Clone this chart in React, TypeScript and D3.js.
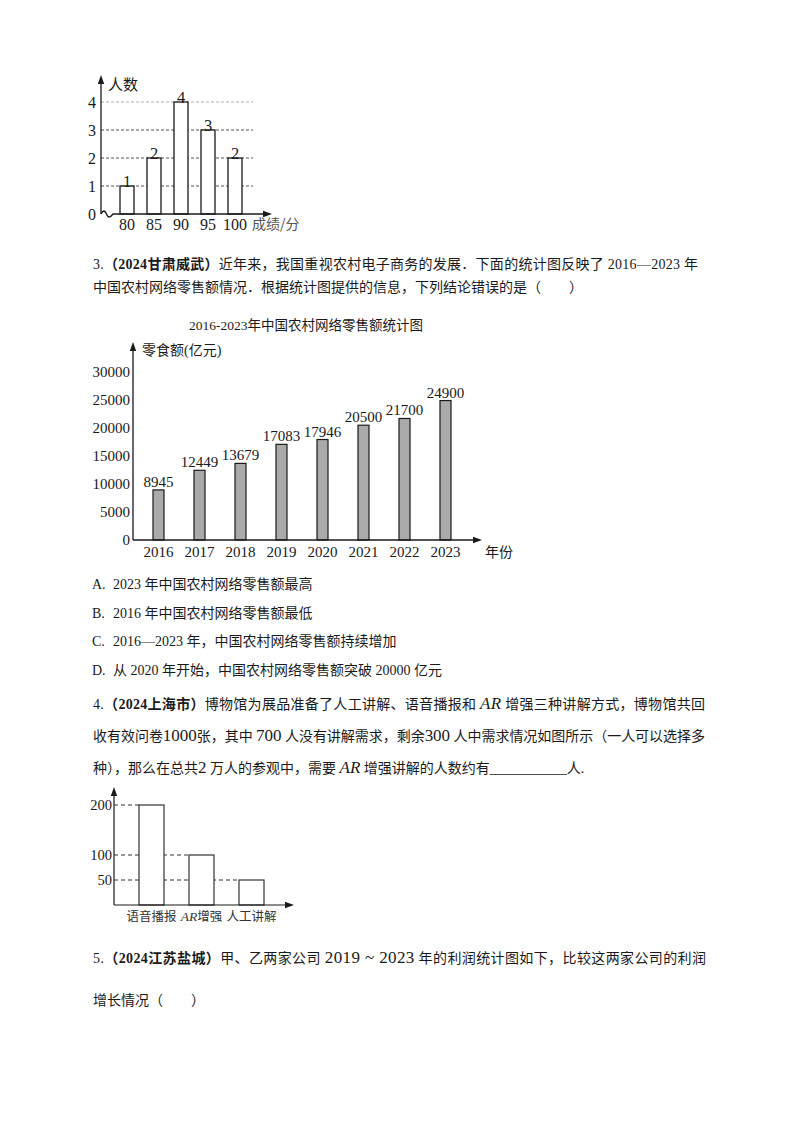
import React from 'react';
import * as d3 from 'd3';

// ---------- data ----------
const scoreCats = ['80', '85', '90', '95', '100'];
const scoreCounts = [1, 2, 4, 3, 2];
const scoreTicks = [0, 1, 2, 3, 4];

const years = ['2016', '2017', '2018', '2019', '2020', '2021', '2022', '2023'];
const sales = [8945, 12449, 13679, 17083, 17946, 20500, 21700, 24900];
const salesTicks = [0, 5000, 10000, 15000, 20000, 25000, 30000];

const guideCats = ['语音播报', 'AR增强', '人工讲解'];
const guideCounts = [200, 100, 50];
const guideTicks = [200, 100, 50];

const optionLabels = ['A.', 'B.', 'C.', 'D.'];
const optionTexts = [
  '2023 年中国农村网络零售额最高',
  '2016 年中国农村网络零售额最低',
  '2016—2023 年，中国农村网络零售额持续增加',
  '从 2020 年开始，中国农村网络零售额突破 20000 亿元',
];

// ---------- styles ----------
const SERIF = "'Liberation Serif','Noto Sans CJK SC',serif";
const CJK = "'Noto Sans CJK SC','Liberation Serif',sans-serif";
const INK = '#1a1a1a';

function ArrowUp({ x, y }: { x: number; y: number }) {
  return <polygon points={`${x},${y} ${x - 3.2},${y + 9} ${x + 3.2},${y + 9}`} fill={INK} />;
}
function ArrowRight({ x, y }: { x: number; y: number }) {
  return <polygon points={`${x},${y} ${x - 9},${y - 3.2} ${x - 9},${y + 3.2}`} fill={INK} />;
}

function ScoreChart() {
  const x = d3.scalePoint<string>().domain(scoreCats).range([127, 235]);
  const y = d3.scaleLinear().domain([0, 4]).range([214, 102]);
  const x0 = 101;
  const bw = 14;
  return (
    <g>
      {scoreTicks.filter((t) => t > 0).map((t) => (
        <line key={t} x1={x0} x2={253} y1={y(t)} y2={y(t)}
          stroke={t === 4 ? '#b0b0b0' : '#555'} strokeWidth={1} strokeDasharray="3,2" />
      ))}
      {scoreCats.map((c, i) => (
        <rect key={c} x={(x(c) as number) - bw / 2} y={y(scoreCounts[i])} width={bw}
          height={y(0) - y(scoreCounts[i])} fill="#fff" stroke={INK} strokeWidth={1.3} />
      ))}
      {scoreCats.map((c, i) => (
        <text key={c} x={x(c)} y={y(scoreCounts[i]) + 0.5} textAnchor="middle" fontSize={16.5}
          fontFamily={SERIF} fill={INK}>{scoreCounts[i]}</text>
      ))}
      <line x1={x0} x2={x0} y1={y(0)} y2={80} stroke={INK} strokeWidth={1.3} />
      <ArrowUp x={x0} y={75} />
      <path d={`M${x0},${y(0)} C103,210 105,210 106.5,214 S110,218 113,214 L268,214`}
        fill="none" stroke={INK} strokeWidth={1.3} />
      <ArrowRight x={272} y={214} />
      {scoreTicks.map((t) => (
        <text key={t} x={96} y={y(t) + 5.5} textAnchor="end" fontSize={16} fontFamily={SERIF} fill={INK}>{t}</text>
      ))}
      {scoreCats.map((c) => (
        <text key={c} x={x(c)} y={230} textAnchor="middle" fontSize={16} fontFamily={SERIF} fill={INK}>{c}</text>
      ))}
      <text x={108} y={90} fontSize={15} fontFamily={CJK} fill={INK}>人数</text>
      <text x={252} y={229} fontSize={14} fontFamily={CJK} fill="#555">成绩/分</text>
    </g>
  );
}

function SalesChart() {
  const x = d3.scalePoint<string>().domain(years).range([158.5, 445.5]);
  const y = d3.scaleLinear().domain([0, 30000]).range([540, 372]);
  const x0 = 133;
  const bw = 11;
  return (
    <g>
      <text x={306} y={330} textAnchor="middle" fontSize={13.5} fontFamily={SERIF} fill={INK}>
        2016-2023年中国农村网络零售额统计图
      </text>
      {years.map((yr, i) => (
        <rect key={yr} x={(x(yr) as number) - bw / 2} y={y(sales[i])} width={bw}
          height={y(0) - y(sales[i])} fill="#aaaaaa" stroke={INK} strokeWidth={1.2} />
      ))}
      {years.map((yr, i) => (
        <text key={yr} x={x(yr)} y={y(sales[i]) - 3} textAnchor="middle" fontSize={15}
          fontFamily={SERIF} fill={INK}>{sales[i]}</text>
      ))}
      <line x1={x0} x2={x0} y1={y(0)} y2={347} stroke={INK} strokeWidth={1.3} />
      <ArrowUp x={x0} y={342} />
      <line x1={x0} x2={477} y1={y(0)} y2={y(0)} stroke={INK} strokeWidth={1.3} />
      <ArrowRight x={482} y={y(0)} />
      {salesTicks.map((t) => (
        <text key={t} x={130} y={y(t) + 5} textAnchor="end" fontSize={15} fontFamily={SERIF} fill={INK}>{t}</text>
      ))}
      {years.map((yr) => (
        <text key={yr} x={x(yr)} y={557} textAnchor="middle" fontSize={15} fontFamily={SERIF} fill={INK}>{yr}</text>
      ))}
      <text x={142} y={355} fontSize={14} fontFamily={SERIF} fill={INK}>零食额(亿元)</text>
      <text x={485} y={557} fontSize={14} fontFamily={CJK} fill={INK}>年份</text>
    </g>
  );
}

function GuideChart() {
  const x = d3.scalePoint<string>().domain(guideCats).range([151.5, 251.5]);
  const y = d3.scaleLinear().domain([0, 200]).range([905, 805]);
  const x0 = 114;
  const bw = 25;
  return (
    <g>
      {guideCats.map((c, i) => (
        <line key={c} x1={x0} x2={(x(c) as number) - bw / 2} y1={y(guideCounts[i])} y2={y(guideCounts[i])}
          stroke="#333" strokeWidth={1} strokeDasharray="4,3" />
      ))}
      {guideCats.map((c, i) => (
        <rect key={c} x={(x(c) as number) - bw / 2} y={y(guideCounts[i])} width={bw}
          height={y(0) - y(guideCounts[i])} fill="#fff" stroke="#333" strokeWidth={1.2} />
      ))}
      <line x1={x0} x2={x0} y1={y(0)} y2={792} stroke={INK} strokeWidth={1.2} />
      <ArrowUp x={x0} y={787} />
      <line x1={x0} x2={289} y1={y(0)} y2={y(0)} stroke={INK} strokeWidth={1.2} />
      <ArrowRight x={294} y={y(0)} />
      {guideTicks.map((t) => (
        <text key={t} x={112} y={y(t) + 5} textAnchor="end" fontSize={14.5} fontFamily={SERIF} fill={INK}>{t}</text>
      ))}
      {guideCats.map((c) => (
        <text key={c} x={x(c)} y={921} textAnchor="middle" fontSize={12.5} fontFamily={CJK} fill="#333">
          {c.startsWith('AR') ? (
            <>
              <tspan fontFamily={SERIF} fontStyle="italic" fontSize={13.5}>AR</tspan>
              <tspan>{c.slice(2)}</tspan>
            </>
          ) : c}
        </text>
      ))}
    </g>
  );
}

const bodyStyle: React.CSSProperties = { whiteSpace: 'pre' };

function Body() {
  const common = { fontFamily: SERIF, fontSize: 14, fill: INK, style: bodyStyle };
  return (
    <g>
      {/* Question 3 */}
      <text x={93} y={269} textLength={605} lengthAdjust="spacing" {...common}>
        <tspan>3.</tspan>
        <tspan fontWeight={700}>（2024甘肃威武）</tspan>
        <tspan>近年来，我国重视农村电子商务的发展．下面的统计图反映了 2016—2023 年</tspan>
      </text>
      <text x={93} y={292} {...common}>中国农村网络零售额情况．根据统计图提供的信息，下列结论错误的是（　　）</text>

      {optionLabels.map((l, i) => (
        <text key={l} x={92} y={589 + i * 28.7} {...common}>
          <tspan>{l}</tspan>
          <tspan x={113}>{optionTexts[i]}</tspan>
        </text>
      ))}

      {/* Question 4 */}
      <text x={93} y={709} textLength={612} lengthAdjust="spacing" {...common}>
        <tspan>4.</tspan>
        <tspan fontWeight={700}>（2024上海市）</tspan>
        <tspan>博物馆为展品准备了人工讲解、语音播报和 </tspan>
        <tspan fontStyle="italic" fontSize={17}>AR</tspan>
        <tspan> 增强三种讲解方式，博物馆共回</tspan>
      </text>
      <text x={93} y={741} textLength={612} lengthAdjust="spacing" {...common}>
        <tspan>收有效问卷</tspan>
        <tspan fontSize={17}>1000</tspan>
        <tspan>张，其中 </tspan>
        <tspan fontSize={17}>700</tspan>
        <tspan> 人没有讲解需求，剩余</tspan>
        <tspan fontSize={17}>300</tspan>
        <tspan> 人中需求情况如图所示（一人可以选择多</tspan>
      </text>
      <text x={93} y={773} {...common}>
        <tspan>种），那么在总共</tspan>
        <tspan fontSize={17}>2</tspan>
        <tspan> 万人的参观中，需要 </tspan>
        <tspan fontStyle="italic" fontSize={17}>AR</tspan>
        <tspan> 增强讲解的人数约有</tspan>
        <tspan>___________</tspan>
        <tspan>人.</tspan>
      </text>

      {/* Question 5 */}
      <text x={93} y={963} textLength={613} lengthAdjust="spacing" {...common}>
        <tspan>5.</tspan>
        <tspan fontWeight={700}>（2024江苏盐城）</tspan>
        <tspan>甲、乙两家公司 </tspan>
        <tspan fontSize={17}>2019 ~ 2023</tspan>
        <tspan> 年的利润统计图如下，比较这两家公司的利润</tspan>
      </text>
      <text x={93} y={1005} {...common}>增长情况（　　）</text>
    </g>
  );
}

export default function App() {
  return (
    <svg width={800} height={1132} viewBox="0 0 800 1132"
      style={{ position: 'absolute', left: 0, top: 0, background: '#fff' }}>
      <rect x={0} y={0} width={800} height={1132} fill="#fff" />
      <ScoreChart />
      <Body />
      <SalesChart />
      <GuideChart />
    </svg>
  );
}
